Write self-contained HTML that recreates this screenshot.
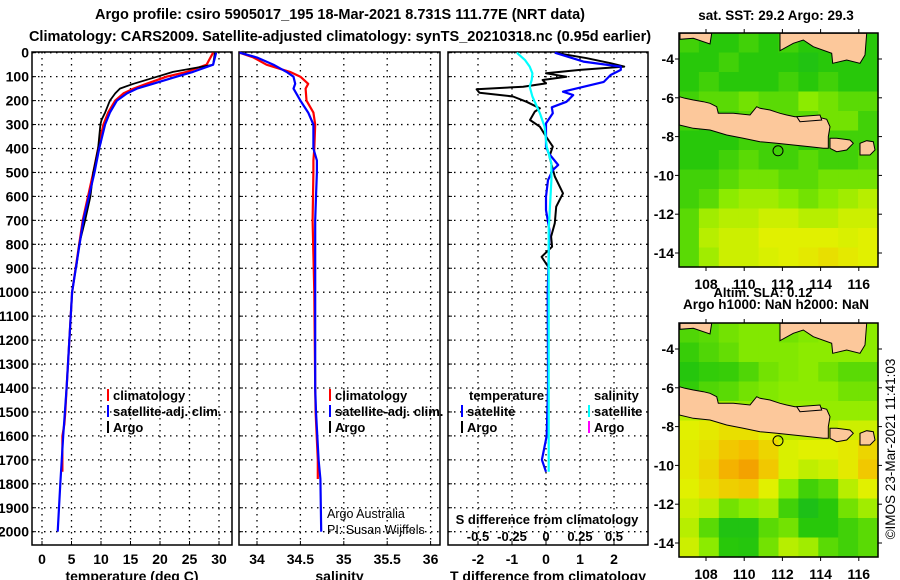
<!DOCTYPE html>
<html><head><meta charset="utf-8">
<style>
body{margin:0;background:#fff;}
svg{display:block;font-family:"Liberation Sans",sans-serif;}
.b{font-weight:bold;font-size:14px;}
.t{font-weight:bold;font-size:14.5px;}
</style></head>
<body>
<svg id="c" width="900" height="580" viewBox="0 0 900 580" xmlns="http://www.w3.org/2000/svg">
<text class="t" x="340" y="19" text-anchor="middle">Argo profile: csiro 5905017_195 18-Mar-2021 8.731S 111.77E (NRT data)</text>
<text class="t" x="340" y="41" text-anchor="middle">Climatology: CARS2009. Satellite-adjusted climatology: synTS_20210318.nc (0.95d earlier)</text>
<g id="g"></g>
</svg>
<script>
// ---- profile data ----
const tDepthClim=[0,50,80,100,130,150,170,200,250,300,400,500,700,1000,1400,1500,1550,1600,1750];
const tClim=[29.0,27.9,24.5,21.1,17.7,15.5,13.8,12.4,11.2,10.4,9.5,8.7,6.9,5.1,4.17,3.95,3.8,3.45,3.45];
const tDepthSat=[0,50,80,100,130,150,170,200,250,300,400,500,700,1000,1400,1600,1800,2000];
const tSat=[29.5,29.0,25.6,22.8,18.8,16.1,14.4,12.7,11.5,10.7,9.7,8.9,7.0,5.1,4.17,3.6,3.1,2.66];
const tDepthArgo=[0,50,80,100,130,150,170,200,250,280,300,400,500,600,700,800,900];
const tArgo=[29.3,29.0,22.2,19.5,15.5,13.2,12.4,11.5,10.7,10.1,9.9,9.5,8.7,8.2,7.3,6.3,5.8];
const sDepth=[0,20,50,80,100,130,150,200,250,300,400,450,500,600,700,1000,1400,1500,1700,1780,2000];
const sClim=[33.80,33.96,34.11,34.38,34.50,34.59,34.56,34.57,34.65,34.67,34.66,34.65,34.65,34.645,34.64,34.66,34.67,34.675,34.70,34.70,null];
const sSat=[33.80,34.00,34.19,34.34,34.42,34.44,34.42,34.50,34.59,34.65,34.65,34.69,34.69,34.68,34.67,34.67,34.67,34.68,34.71,34.73,34.74];
const dDepthSatT=[0,37,58,72,93,122,163,177,205,228,253,295,392,420,469,490,532,601,657,740,1000,1400,1600,1650,1700,1750];
const dSatT=[0.26,1.1,2.2,2.2,1.9,1.7,0.5,0.8,0.6,0.17,0.2,0,0,0.08,0.36,0.2,0.06,0,0,0.1,0.05,0.06,0.02,-0.05,-0.12,0];
const dDepthArgoT=[0,23,44,58,72,86,100,114,128,142,153,167,183,205,232,246,281,309,350,392,434,517,587,643,712,768,810,852,880,900];
const dArgoT=[0.26,1.2,1.9,2.3,1.0,0.0,0.6,-0.1,0.0,-0.67,-2.04,-1.96,-0.97,-0.57,-0.18,-0.33,-0.47,-0.18,0,0.2,0.1,0.26,0.5,0.3,0.26,0.15,0.18,-0.13,0,0.1];
const dDepthSatS=[0,30,58,86,114,142,183,253,309,392,462,532,740,1000,1400,1750];
const dSatS=[-0.215,-0.155,-0.12,-0.1,-0.105,-0.12,-0.1,-0.045,-0.01,0.005,0.04,0.04,0.02,0.02,0.02,0.02];
const depthTicks=[0,100,200,300,400,500,600,700,800,900,1000,1100,1200,1300,1400,1500,1600,1700,1800,1900,2000];
const tTicks=[0,5,10,15,20,25,30];
const sTicks=[34,34.5,35,35.5,36];
const dTTicks=[-2,-1,0,1,2];
const dSTicks=[-0.5,-0.25,0,0.25,0.5];
const dSTickLabels=["-0.5","-0.25","0","0.25","0.5"];
// ---- map data (value 0..1 on colour scale), rows lat -3.2..-14.2, cols lon 107.1..116.5 ----
const sstGrid=[
[.35,.3,.3,.35,.3,.35,.3,.3,.35,.3],
[.3,.3,.35,.3,.3,.3,.25,.3,.3,.3],
[.3,.35,.3,.3,.3,.35,.3,.35,.3,.3],
[.35,.4,.4,.45,.4,.4,.5,.45,.4,.4],
[.35,.3,.35,.4,.45,.4,.4,.45,.45,.35],
[.3,.3,.3,.35,.35,.35,.3,.35,.35,.35],
[.3,.3,.35,.4,.35,.35,.4,.35,.35,.4],
[.35,.35,.4,.45,.45,.4,.4,.45,.45,.45],
[.35,.4,.5,.55,.55,.5,.45,.5,.55,.6],
[.4,.55,.6,.6,.65,.65,.6,.6,.65,.65],
[.4,.6,.65,.65,.7,.7,.7,.7,.68,.7],
[.4,.55,.65,.65,.68,.7,.72,.75,.72,.7]];
const slaGrid=[
[.38,.4,.45,.48,.48,.45,.48,.5,.5,.5],
[.33,.38,.42,.48,.48,.48,.5,.5,.5,.5],
[.28,.32,.33,.38,.45,.48,.5,.45,.4,.4],
[.32,.38,.4,.45,.48,.5,.5,.5,.45,.45],
[.6,.6,.55,.52,.52,.52,.52,.52,.52,.52],
[.7,.72,.75,.75,.7,.6,.6,.62,.65,.65],
[.72,.75,.82,.85,.78,.68,.7,.7,.72,.78],
[.72,.78,.88,.92,.82,.68,.62,.65,.72,.82],
[.7,.75,.8,.82,.7,.5,.35,.4,.6,.7],
[.65,.6,.45,.5,.55,.35,.22,.3,.45,.55],
[.6,.4,.25,.25,.4,.45,.3,.3,.35,.4],
[.65,.5,.3,.28,.45,.6,.55,.4,.35,.4]];
const lonTicks=[108,110,112,114,116];
const latTicks=[-4,-6,-8,-10,-12,-14];
const argoLon=111.77, argoLat=-8.731;

const NS='http://www.w3.org/2000/svg';
const G=document.getElementById('g');
function el(tag,attrs,parent,txt){const e=document.createElementNS(NS,tag);for(const k in attrs)e.setAttribute(k,attrs[k]);if(txt!==undefined)e.textContent=txt;(parent||G).appendChild(e);return e;}
const yD=d=>52.7+d*0.2395;
const TOP=52,BOT=545;
const panels=[
 {x0:32,x1:232,f:v=>42+5.9*v,ticks:tTicks,labels:tTicks.map(String),title:'temperature (deg C)',name:'temperature-panel'},
 {x0:239,x1:440,f:v=>257+86.8*(v-34),ticks:sTicks,labels:sTicks.map(String),title:'salinity',name:'salinity-panel'},
 {x0:448,x1:648,f:v=>546+34*v,ticks:dTTicks,labels:dTTicks.map(String),title:'T difference from climatology',name:'difference-panel'}];
panels.forEach((p,pi)=>{
  const g=el('g',{});
  
  
  depthTicks.forEach(d=>{const l=el('line',{x1:p.x0,x2:p.x1,y1:yD(d),y2:yD(d),stroke:'#000','stroke-width':1.3,'stroke-dasharray':'1.5 4.5'},g);
    
    el('line',{x1:p.x0,x2:p.x0+4,y1:yD(d),y2:yD(d),stroke:'#000'},g);});
  p.ticks.forEach((v,i)=>{const x=p.f(v);
    const l=el('line',{x1:x,x2:x,y1:TOP,y2:BOT,stroke:'#000','stroke-width':1.3,'stroke-dasharray':'1.5 4.5'},g);
    
    el('line',{x1:x,x2:x,y1:BOT,y2:BOT-4,stroke:'#000'},g);
    const t=el('text',{class:'b',x:x,y:564,'text-anchor':'middle'},g,p.labels[i]);
    });
  const f=el('rect',{x:p.x0,y:TOP,width:p.x1-p.x0,height:BOT-TOP,fill:'none',stroke:'#000','stroke-width':1.5},g);
  
  const tt=el('text',{class:'b',x:(p.x0+p.x1)/2,y:581,'text-anchor':'middle'},g,p.title);
  
});
depthTicks.forEach(d=>{const t=el('text',{class:'b',x:29,y:yD(d)+5,'text-anchor':'end'},G,String(d));
  });
function line(depths,vals,f,color,name,w){
  const pts=[];depths.forEach((d,i)=>{if(vals[i]!==null)pts.push(f(vals[i]).toFixed(1)+','+yD(d).toFixed(1));});
  const p=el('polyline',{points:pts.join(' '),fill:'none',stroke:color,'stroke-width':w||2.2,'stroke-linejoin':'round'});
  }
const fT=panels[0].f,fS=panels[1].f,fD=panels[2].f,fDS=v=>546+136*v;
line(tDepthClim,tClim,fT,'#f00','temperature-climatology-line');
line(tDepthArgo,tArgo,fT,'#000','temperature-argo-line',1.8);
line(tDepthSat,tSat,fT,'#00f','temperature-satellite-line');
line(sDepth,sClim,fS,'#f00','salinity-climatology-line');
line(sDepth,sSat,fS,'#00f','salinity-satellite-line');
line(dDepthArgoT,dArgoT,fD,'#000','t-diff-argo-line',2);
line(dDepthSatT,dSatT,fD,'#00f','t-diff-satellite-line');
line(dDepthSatS,dSatS,fDS,'#0ff','s-diff-satellite-line');
// legends
function leg(x,y,color,txt,name){const g=el('g',{});
  if(color)el('rect',{x:x,y:y-11,width:2,height:12,fill:color},g);
  el('text',{class:'b',x:x+6,y:y,'font-size':'13','style':'font-size:13px'},g,txt);}
leg(107,400,'#f00','climatology','legend-climatology');
leg(107,416,'#00f','satellite-adj. clim.','legend-satellite-adj');
leg(107,432,'#000','Argo','legend-argo');
leg(329,400,'#f00','climatology','legend-s-climatology');
leg(329,416,'#00f','satellite-adj. clim.','legend-s-satellite-adj');
leg(329,432,'#000','Argo','legend-s-argo');
leg(463,400,null,'temperature','legend-temperature-heading');
leg(461,416,'#00f','satellite','legend-t-satellite');
leg(461,432,'#000','Argo','legend-t-argo');
leg(588,400,null,'salinity','legend-salinity-heading');
leg(588,416,'#0ff','satellite','legend-s-sat');
leg(588,432,'#f0f','Argo','legend-s-argo-diff');
el('text',{x:327,y:518,'font-size':'12.5'},G,'Argo Australia');
el('text',{x:327,y:534,'font-size':'12.5'},G,'PI: Susan Wijffels');
el('text',{class:'b',x:547,y:524,'text-anchor':'middle',style:'font-size:13px'},G,'S difference from climatology');
dSTicks.forEach((v,i)=>{const t=el('text',{class:'b',x:fDS(v),y:541,'text-anchor':'middle',style:'font-size:13px'},G,dSTickLabels[i]);
  });
// maps
function col(v){const st=[[0,[0,170,60]],[.3,[40,200,10]],[.5,[140,235,0]],[.7,[225,240,0]],[.85,[245,190,0]],[1,[240,130,0]]];
  for(let i=1;i<st.length;i++)if(v<=st[i][0]){const a=st[i-1],b=st[i],t=(v-a[0])/(b[0]-a[0]);return 'rgb('+a[1].map((c,j)=>Math.round(c+(b[1][j]-c)*t)).join(',')+')';}return 'rgb(240,130,0)';}
const java=[[58,290],[75,295],[100,300],[130,305],[150,310],[170,320],[175,340],[220,340],[270,345],[290,320],[300,325],[330,330],[360,340],[380,345],[405,350],[470,350],[500,358],[510,380],[505,410],[505,445],[490,445],[450,440],[400,435],[350,430],[300,425],[250,415],[200,405],[150,390],[100,385],[58,375]];
const madura=[[410,350],[480,345],[485,360],[420,365]];
const bali=[[510,415],[530,415],[570,420],[580,430],[560,450],[530,455],[510,445]];
const lombok=[[600,430],[620,422],[640,425],[645,450],[630,465],[600,465]];
const borneo=[[360,100],[360,152],[400,130],[430,120],[460,140],[515,160],[518,190],[560,180],[600,190],[615,165],[620,100]];
const borneoW=[[60,100],[60,118],[100,115],[150,132],[155,100]];
function map(oy,grid,name,title1){
  const g=el('g',{});
  const X0=679,X1=878,Y0=33+oy,Y1=267+oy;
  const lx=lon=>706+(lon-108)*19.1, ly=lat=>59+oy+(-4-lat)*19.4;
  const cw=(X1-X0)/10,ch=(Y1-Y0)/12;
  grid.forEach((row,r)=>row.forEach((v,c)=>{const cell=el('rect',{x:X0+c*cw,y:Y0+r*ch,width:cw+0.6,height:ch+0.6,fill:col(v)},g);
    }));
  [java,madura,bali,lombok,borneo,borneoW].forEach(poly=>{const p=el('polygon',{points:poly.map(q=>(660+q[0]/3).toFixed(1)+','+(q[1]/3+oy).toFixed(1)).join(' '),fill:'#fcc89b',stroke:'#000','stroke-width':1},g);
    });
  const ci=el('circle',{cx:lx(argoLon),cy:ly(argoLat),r:5,fill:'none',stroke:'#000'},g);
  
  el('rect',{x:X0,y:Y0,width:X1-X0,height:Y1-Y0,fill:'none',stroke:'#000','stroke-width':1.5},g);
  lonTicks.forEach(v=>{el('line',{x1:lx(v),x2:lx(v),y1:Y1,y2:Y1+4,stroke:'#000'},g);el('line',{x1:lx(v),x2:lx(v),y1:Y0,y2:Y0-4,stroke:'#000'},g);
    const t=el('text',{class:'b',x:lx(v),y:Y1+22,'text-anchor':'middle'},g,String(v));});
  latTicks.forEach(v=>{el('line',{x1:X0-4,x2:X0,y1:ly(v),y2:ly(v),stroke:'#000'},g);el('line',{x1:X1,x2:X1+4,y1:ly(v),y2:ly(v),stroke:'#000'},g);
    const t=el('text',{class:'b',x:X0-5,y:ly(v)+5,'text-anchor':'end'},g,String(v));});
  const tt=el('text',{class:'b',x:776,y:oy?oy+19:20,'text-anchor':'middle',style:'font-size:13.5px'},g,title1);
  
}
map(0,sstGrid,'sst-map','sat. SST: 29.2 Argo: 29.3');
map(290,slaGrid,'sla-map','Argo h1000: NaN h2000: NaN');
const a=el('text',{class:'b',x:763,y:297,'text-anchor':'middle',style:'font-size:13px'},G,'Altim. SLA: 0.12');

const cr=el('text',{x:0,y:0,'font-size':'13.5',transform:'translate(895,449) rotate(-90)','text-anchor':'middle'},G,'©IMOS 23-Mar-2021 11:41:03');

</script>
</body></html>
